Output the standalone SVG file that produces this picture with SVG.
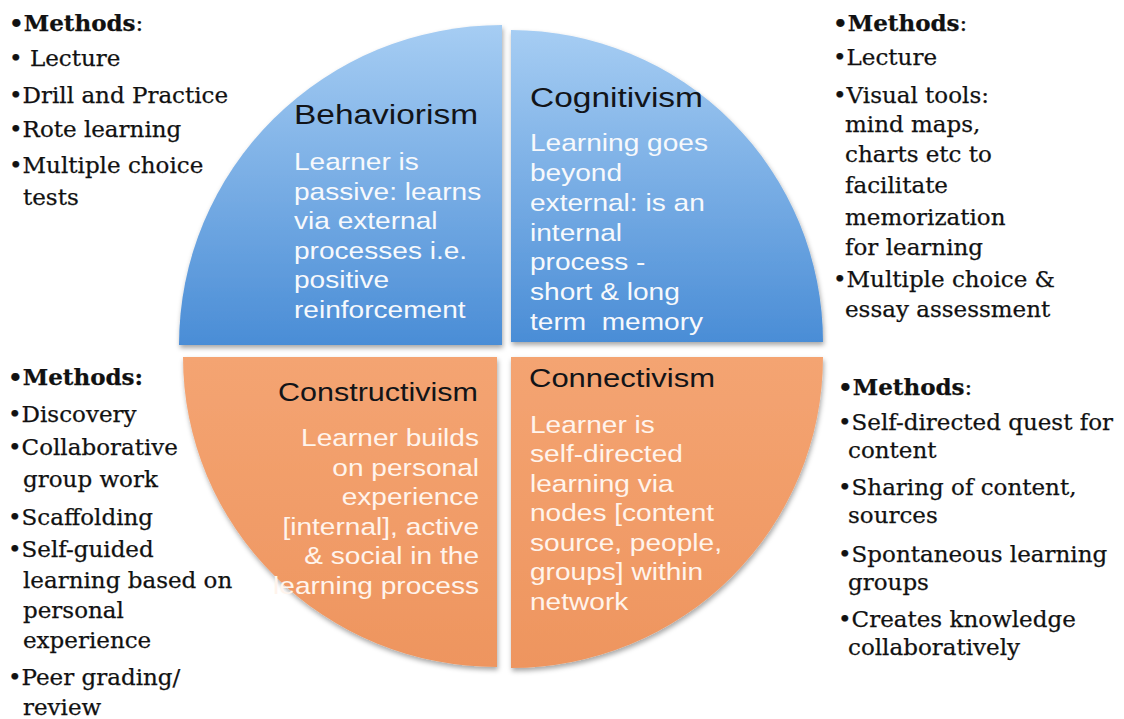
<svg xmlns="http://www.w3.org/2000/svg" width="1124" height="719" viewBox="0 0 1124 719">
<defs>
<linearGradient id="gBlue" x1="0" y1="0" x2="0" y2="1">
<stop offset="0" stop-color="#a6cdf3"/>
<stop offset="1" stop-color="#4a8dd6"/>
</linearGradient>
<linearGradient id="gOrange" x1="0" y1="0" x2="0" y2="1">
<stop offset="0" stop-color="#f4a472"/>
<stop offset="1" stop-color="#ee955f"/>
</linearGradient>
<filter id="shadow" x="-10%" y="-10%" width="120%" height="120%">
<feDropShadow dx="1" dy="3" stdDeviation="2.5" flood-color="#000" flood-opacity="0.35"/>
</filter>
</defs>
<style>
.title{font-family:"Liberation Sans",Arial,sans-serif;fill:#121418;}
.body{font-family:"Liberation Sans",Arial,sans-serif;font-size:24px;fill:#f7f9fc;}
.bodyo{font-family:"Liberation Sans",Arial,sans-serif;font-size:24px;fill:#fff4ec;}
.m{font-family:"DejaVu Serif","Liberation Serif",serif;font-size:23px;fill:#111111;stroke:#111111;stroke-width:0.25;}
.b{font-weight:bold;}
</style>
<rect width="1124" height="719" fill="#ffffff"/>

<g id="node-behaviorism">
<path d="M502,345 H179 A323,320 0 0 1 502,25 Z" fill="url(#gBlue)" filter="url(#shadow)"/>
<text class="title" x="294" y="124" font-size="27" textLength="184" lengthAdjust="spacingAndGlyphs">Behaviorism</text>
<g transform="translate(294,0) scale(1.17,1)">
<text class="body" x="0" y="170">Learner is</text>
<text class="body" x="0" y="199.6">passive: learns</text>
<text class="body" x="0" y="229.2">via external</text>
<text class="body" x="0" y="258.8">processes i.e.</text>
<text class="body" x="0" y="288.4">positive</text>
<text class="body" x="0" y="318">reinforcement</text>
</g>
</g>

<g id="node-cognitivism">
<path d="M511,342 V30 A312,312 0 0 1 823,342 Z" fill="url(#gBlue)" filter="url(#shadow)"/>
<text class="title" x="530" y="107" font-size="27" textLength="173" lengthAdjust="spacingAndGlyphs">Cognitivism</text>
<g transform="translate(530,0) scale(1.17,1)">
<text class="body" x="0" y="151.5">Learning goes</text>
<text class="body" x="0" y="181.2">beyond</text>
<text class="body" x="0" y="210.9">external: is an</text>
<text class="body" x="0" y="240.6">internal</text>
<text class="body" x="0" y="270.3">process -</text>
<text class="body" x="0" y="300">short &amp; long</text>
<text class="body" x="0" y="329.7">term&#160; memory</text>
</g>
</g>

<g id="node-constructivism">
<path d="M497,357 H183 A314,310 0 0 0 497,667 Z" fill="url(#gOrange)" filter="url(#shadow)"/>
<text class="title" x="278" y="401" font-size="25" textLength="200" lengthAdjust="spacingAndGlyphs">Constructivism</text>
<g transform="translate(479,0) scale(1.17,1)">
<text class="bodyo" x="0" y="446" text-anchor="end">Learner builds</text>
<text class="bodyo" x="0" y="475.6" text-anchor="end">on personal</text>
<text class="bodyo" x="0" y="505.2" text-anchor="end">experience</text>
<text class="bodyo" x="0" y="534.8" text-anchor="end">[internal], active</text>
<text class="bodyo" x="0" y="564.4" text-anchor="end">&amp; social in the</text>
<text class="bodyo" x="0" y="594" text-anchor="end">learning process</text>
</g>
</g>

<g id="node-connectivism">
<path d="M511,357 H823 A312,311 0 0 1 511,668 Z" fill="url(#gOrange)" filter="url(#shadow)"/>
<text class="title" x="529" y="387" font-size="25" textLength="186" lengthAdjust="spacingAndGlyphs">Connectivism</text>
<g transform="translate(530,0) scale(1.17,1)">
<text class="bodyo" x="0" y="433">Learner is</text>
<text class="bodyo" x="0" y="462.5">self-directed</text>
<text class="bodyo" x="0" y="492">learning via</text>
<text class="bodyo" x="0" y="521.5">nodes [content</text>
<text class="bodyo" x="0" y="551">source, people,</text>
<text class="bodyo" x="0" y="580.5">groups] within</text>
<text class="bodyo" x="0" y="610">network</text>
</g>
</g>

<g id="methods-behaviorism">
<text class="m" x="9" y="31"><tspan class="b">•Methods</tspan>:</text>
<text class="m" x="9" y="66">• Lecture</text>
<text class="m" x="9" y="103">•Drill and Practice</text>
<text class="m" x="9" y="137">•Rote learning</text>
<text class="m" x="9" y="173">•Multiple choice</text>
<text class="m" x="23" y="205">tests</text>
</g>

<g id="methods-cognitivism">
<text class="m" x="833" y="31"><tspan class="b">•Methods</tspan>:</text>
<text class="m" x="833" y="65">•Lecture</text>
<text class="m" x="833" y="103">•Visual tools:</text>
<text class="m" x="845" y="132">mind maps,</text>
<text class="m" x="845" y="162">charts etc to</text>
<text class="m" x="845" y="193">facilitate</text>
<text class="m" x="845" y="225">memorization</text>
<text class="m" x="845" y="255">for learning</text>
<text class="m" x="833" y="287">•Multiple choice &amp;</text>
<text class="m" x="845" y="317" font-size="20.5">essay assessment</text>
</g>

<g id="methods-constructivism">
<text class="m b" x="8" y="385">•Methods:</text>
<text class="m" x="8" y="422">•Discovery</text>
<text class="m" x="8" y="455">•Collaborative</text>
<text class="m" x="23" y="487">group work</text>
<text class="m" x="8" y="525">•Scaffolding</text>
<text class="m" x="8" y="557">•Self-guided</text>
<text class="m" x="23" y="588">learning based on</text>
<text class="m" x="23" y="618">personal</text>
<text class="m" x="23" y="648">experience</text>
<text class="m" x="8" y="685">•Peer grading/</text>
<text class="m" x="23" y="715">review</text>
</g>

<g id="methods-connectivism">
<text class="m" x="838" y="395"><tspan class="b">•Methods</tspan>:</text>
<text class="m" x="838" y="430">•Self-directed quest for</text>
<text class="m" x="848" y="458">content</text>
<text class="m" x="838" y="495">•Sharing of content,</text>
<text class="m" x="848" y="523">sources</text>
<text class="m" x="838" y="562">•Spontaneous learning</text>
<text class="m" x="848" y="590">groups</text>
<text class="m" x="838" y="627">•Creates knowledge</text>
<text class="m" x="848" y="655">collaboratively</text>
</g>

<g id="connectors"/>
</svg>
